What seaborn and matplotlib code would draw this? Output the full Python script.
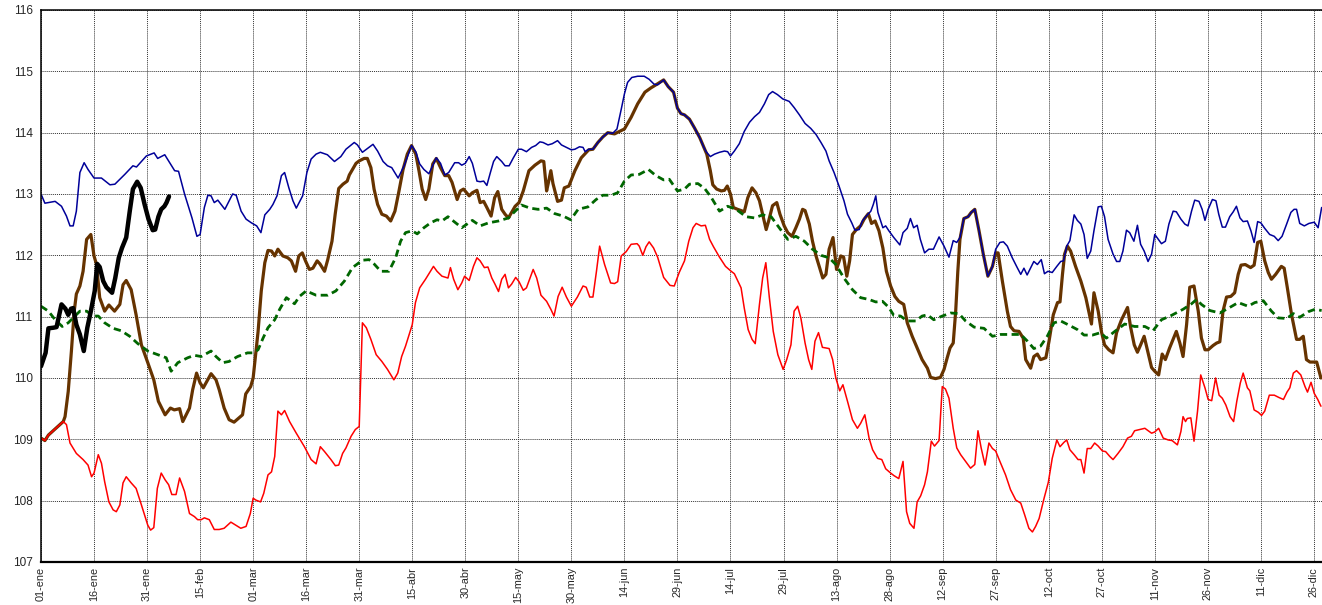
import matplotlib
matplotlib.use("Agg")
import matplotlib.pyplot as plt
import seaborn as sns
import numpy as np

# day of year (0 = 01-ene, leap year) and level
blue_max = [
    (0,113.0),(1.1,112.85),(4,112.88),(5.8,112.8),(7.2,112.64),(8.2,112.48),(9.1,112.48),(10,112.72),(11,113.35),(12.2,113.51),(13.3,113.4),(15,113.26),(17.1,113.26),(19.5,113.15),(20.9,113.16),(23.7,113.32),(26,113.46),(27,113.44),(29.8,113.62),(32,113.67),(33,113.58),(35,113.64),(36.4,113.51),(37.8,113.38),(38.9,113.37),(40.6,113.0),(42.7,112.61),(44.1,112.31),(45,112.34),(46.2,112.78),(47.2,112.98),(48.1,112.97),(49,112.86),(50,112.9),(52,112.75),(54.2,113.0),(55.2,112.98),(56.6,112.72),(58,112.59),(59.5,112.53),
    (61,112.48),(62.2,112.37),(63.3,112.66),(64.7,112.75),(65.6,112.83),(66.75,112.97),(68,113.3),(68.9,113.35),(70.1,113.1),(71.25,112.89),(72.2,112.77),(74,112.97),(75.2,113.35),(76.4,113.57),(77.8,113.65),(79,113.68),(81,113.64),(83,113.53),(84.8,113.61),(86.25,113.73),(88.6,113.84),(89.5,113.8),(90.9,113.68),(93.9,113.81),(95.2,113.7),(96.75,113.53),(98,113.46),(99.2,113.43),(101,113.26),(102.7,113.46),(104.8,113.79),(106,113.69),(107.1,113.49),(108.3,113.4),(109.7,113.33),(111.8,113.59),(113,113.5),(114.2,113.31),(115.3,113.35),(117,113.51),(118.1,113.51),(119,113.47),
    (120,113.5),(121.1,113.61),(122,113.5),(123.3,113.21),(124.2,113.2),(125.2,113.21),(126.1,113.14),(127.1,113.35),(128,113.53),(128.9,113.61),(130.3,113.53),(131.25,113.46),(132.4,113.46),(133.6,113.59),(135,113.73),(135.9,113.73),(137.3,113.69),(138.75,113.76),(139.9,113.79),(141.1,113.85),(142,113.84),(143.4,113.8),(144.6,113.82),(146.1,113.87),(147.2,113.8),(148.6,113.76),(150,113.72),(151,113.73),(152.3,113.77),(153.3,113.76),(153.9,113.69),(154.9,113.73),(156.1,113.73),(157.5,113.84),(158.9,113.93),(160.3,114.0),(161.7,113.99),(162.9,114.06),(164.1,114.38),(165,114.63),(165.9,114.82),(167.1,114.9),(168.75,114.92),(170.6,114.92),(172,114.87),(173.4,114.79),(174.4,114.78),(176.1,114.86),(177.4,114.75),(178.9,114.66),(180,114.4),(181,114.31),
    (182,114.29),(183.4,114.22),(184.8,114.08),(186.3,113.92),(187.4,113.77),(188.1,113.69),(189.3,113.61),(190.5,113.65),(191.9,113.68),(193.3,113.7),(194.2,113.69),(195,113.62),(196.1,113.7),(197.5,113.82),(198.9,114.02),(200.4,114.17),(201.8,114.26),(203.2,114.33),(204.6,114.47),(205.8,114.62),(206.9,114.67),(208.3,114.62),(209.8,114.55),(211.6,114.51),(213,114.41),(214.5,114.29),(216.1,114.15),(217.7,114.07),(219.2,113.97),(220.6,113.84),(222,113.7),(222.9,113.54),(224.3,113.35),(225.7,113.13),(227.1,112.89),(228.1,112.67),(229.3,112.53),(230.2,112.41),(231.4,112.42),(232.3,112.56),(233.4,112.64),(234.7,112.72),(235.4,112.83),(236.1,112.97),(236.7,112.7),(237.5,112.56),(238.1,112.45),(238.9,112.48),(239.8,112.4),(241.2,112.29),
    (242.9,112.17),(243.8,112.37),(245,112.44),(245.9,112.6),(246.8,112.45),(247.8,112.49),(248.7,112.26),(249.9,112.04),(251.1,112.1),(252.4,112.1),(254,112.3),(255.4,112.15),(256.8,111.97),(258,112.24),(259,112.21),(259.9,112.29),(261,112.6),(262.2,112.63),(263.1,112.7),(264.1,112.75),(265.3,112.4),(266.5,112.02),(267.8,111.66),(269.1,111.82),(270,112.1),(271.2,112.21),(272.2,112.22),(273.3,112.15),(274.7,111.96),(276.1,111.8),(277.1,111.69),(278,111.79),(278.9,111.68),(280.1,111.82),(280.8,111.9),(281.8,111.85),(282.9,111.93),(283.8,111.7),(284.8,111.74),(286,111.72),(287.3,111.82),(288.4,111.9),(289.2,111.91),(290.1,112.15),(291,112.24),(292.2,112.66),(293.1,112.57),(294.1,112.51),(295,112.34),(295.9,111.95),(296.9,112.07),(297.8,112.4),(299,112.79),(299.9,112.8),(300.8,112.63),(301.8,112.26),
    (303.2,112.02),(304.2,111.9),(305.1,111.9),(306,112.07),(307,112.41),(307.9,112.37),(309.1,112.23),(310.1,112.49),(311,112.18),(312,112.07),(313.1,111.9),(314.1,112.02),(315,112.34),(316,112.26),(316.9,112.19),(318,112.23),(319,112.51),(320.2,112.72),(321.1,112.71),(322.4,112.59),(323.5,112.51),(324.4,112.48),(325.4,112.72),(326.3,112.9),(327.5,112.88),(328.4,112.75),(329.2,112.57),(330.1,112.75),(331.3,112.91),(332.3,112.89),(333.1,112.67),(334.1,112.46),(335,112.46),(336.2,112.63),(337.2,112.71),(338.1,112.8),(339.1,112.61),(340,112.55),(341.2,112.56),(342.2,112.4),(343.1,112.21),(344.1,112.55),(345,112.53),(346.1,112.44),(347.5,112.34),(348.8,112.31),(349.9,112.24),(351,112.31),(352.3,112.51),(353.5,112.7),(354.4,112.75),(355.1,112.75),(356,112.52),(357.3,112.48),(358.6,112.52),(360.1,112.54),(361.2,112.45),(362.2,112.78)]

brown_prev = [
    (0,109.02),(1.1,108.98),(2.1,109.07),(4,109.17),(6.3,109.29),(6.8,109.37),(7.7,109.78),(8.6,110.44),(9.4,111.09),(10,111.37),(11,111.5),(11.9,111.74),(12.9,112.26),(14.1,112.34),(15,111.99),(15.7,111.85),(16.6,111.31),(18,111.09),(19.2,111.19),(20.8,111.09),(22.3,111.2),(23.2,111.52),(24.1,111.59),(25.5,111.44),(26.9,111.03),(28.4,110.54),(30.2,110.25),(31.9,109.97),(33.2,109.62),(35.1,109.4),(36.6,109.51),(37.7,109.48),(39.2,109.5),(40.1,109.29),(42,109.51),(42.9,109.81),(44,110.08),(45,109.92),(45.9,109.84),(48.1,110.07),(49.5,109.97),(50.4,109.81),(51.8,109.51),(53.2,109.32),(54.6,109.28),(56,109.35),(57,109.4),(57.9,109.74),(59.3,109.86),(60,110.0),
    (61.4,110.76),(62.3,111.42),(63.3,111.88),(64.2,112.08),(65.2,112.07),(66.1,111.99),(67,112.1),(68.4,111.99),(69.8,111.96),(70.8,111.91),(72,111.74),(72.9,111.99),(73.9,112.04),(74.8,111.91),(75.9,111.77),(76.9,111.79),(78.1,111.91),(78.9,111.86),(80.2,111.74),(81.1,111.93),(82.3,112.23),(83.2,112.67),(84.2,113.09),(85.4,113.16),(86.6,113.21),(87.2,113.31),(88.1,113.4),(89.1,113.5),(90,113.54),(91.4,113.58),(92.3,113.58),(93.3,113.43),(94.2,113.08),(95.2,112.83),(96.4,112.67),(97.7,112.64),(98.9,112.56),(100.1,112.72),(101.25,113.05),(102.4,113.4),(103.6,113.65),(104.8,113.79),(106,113.65),(106.9,113.38),(107.8,113.08),(108.8,112.91),(109.7,113.08),(110.8,113.49),(111.8,113.58),(113,113.43),(114.2,113.3),(115.3,113.3),(116.25,113.19),(117.7,112.91),(118.6,113.05),(119.5,113.08),
    (121.1,112.97),(122,113.02),(123.3,113.06),(124.2,112.86),(125.2,112.88),(126.1,112.78),(127.3,112.64),(128.3,112.94),(129.2,113.04),(130.3,112.75),(131.25,112.67),(132.2,112.61),(133.1,112.7),(134.1,112.8),(135.2,112.86),(136.4,113.05),(138,113.38),(139.7,113.47),(141.4,113.54),(142.2,113.53),(143,113.05),(143.6,113.21),(144.2,113.38),(144.8,113.17),(146.1,112.88),(147.2,112.9),(148,113.1),(149.3,113.13),(151,113.38),(152.8,113.59),(154.9,113.72),(156.1,113.73),(157.5,113.84),(158.9,113.93),(160.3,114.0),(162.2,113.98),(165,114.06),(166.9,114.25),(168.75,114.47),(170.8,114.66),(172.5,114.73),(174.2,114.79),(176.1,114.86),(177.4,114.75),(178.9,114.66),(180,114.4),(181,114.31),
    (182,114.29),(183.4,114.22),(184.8,114.08),(186.3,113.92),(187.4,113.77),(188.3,113.65),(189.3,113.38),(190,113.15),(191.1,113.08),(192.4,113.05),(193.3,113.06),(194.1,113.13),(195,113.0),(195.8,112.78),(197,112.75),(198,112.73),(198.9,112.71),(199.9,112.94),(201.1,113.1),(202.2,113.02),(203.2,112.89),(204.1,112.67),(205.1,112.42),(205.8,112.56),(206.9,112.81),(208.1,112.86),(209,112.67),(210.2,112.48),(211.2,112.37),(212.4,112.31),(213.5,112.45),(214.5,112.59),(215.4,112.75),(216.1,112.73),(217.3,112.51),(218.2,112.23),(219.2,111.99),(220.1,111.82),(221.1,111.63),(222,111.69),(222.9,112.1),(224,112.29),(225,111.77),(226.2,111.99),(227,111.97),(227.9,111.66),(228.7,111.91),(229.5,112.34),(230.6,112.42),(231.8,112.48),(232.8,112.59),(234,112.68),(234.9,112.52),(235.9,112.56),(237,112.4),(238.1,112.12),(239.1,111.74),(240.3,111.5),(241.5,111.33),
    (242.6,111.25),(244,111.2),(245,110.9),(246.4,110.68),(247.8,110.49),(249.2,110.3),(250.7,110.16),(251.6,110.01),(253,109.99),(254.4,110.01),(255.4,110.14),(256.3,110.33),(257.1,110.49),(258,110.57),(258.7,111.09),(259.3,111.74),(259.9,112.26),(261,112.6),(262.2,112.63),(263.1,112.7),(264.1,112.75),(265.3,112.4),(266.5,112.02),(267.8,111.66),(269.1,111.82),(270,112.04),(270.7,112.04),(271.9,111.58),(273.3,111.09),(274.2,110.84),(275.2,110.77),(276.6,110.76),(277.8,110.65),(278.5,110.3),(279.9,110.16),(280.8,110.35),(281.8,110.39),(282.7,110.3),(284.2,110.33),(285.1,110.6),(286.3,111.03),(287.5,111.23),(288.2,111.24),(288.9,111.69),(289.5,112.02),(290.3,112.15),(291.2,112.07),(292.6,111.82),(294.1,111.58),(295.5,111.31),(297.1,110.88),(297.8,111.39),(299,111.09),(299.9,110.76),(300.8,110.54),
    (302,110.46),(303.2,110.41),(304.2,110.74),(305.6,110.95),(307.3,111.15),(308.2,110.82),(309.2,110.54),(310.1,110.42),(311,110.54),(312,110.68),(313.1,110.41),(314.1,110.17),(315,110.11),(316.1,110.05),(317.1,110.39),(318,110.3),(319.2,110.49),(320.2,110.63),(321.1,110.76),(322.1,110.57),(323,110.35),(324,110.87),(324.9,111.48),(326.1,111.5),(327.3,111.09),(328.2,110.65),(329.2,110.46),(330.1,110.46),(331.5,110.53),(332.5,110.57),(333.4,110.59),(334.3,111.09),(335.3,111.32),(336.5,111.33),(337.6,111.39),(338.6,111.69),(339.4,111.84),(340.6,111.85),(342.1,111.8),(343.1,111.84),(344.1,112.21),(345,112.23),(346.1,111.91),(347.1,111.72),(348,111.61),(349.2,111.69),(350.8,111.82),(351.6,111.79),(352.5,111.47),(353.7,111.03),(355.1,110.63),(356,110.63),(357,110.68),(357.9,110.3),(358.9,110.26),(360.8,110.26),(362,110.0)]

green_avg = [
    (0,111.17),(2.1,111.09),(4,110.95),(6,110.84),(7.7,110.9),(9.6,111.01),(11,111.09),(12.9,111.09),(14.7,111.01),(16.2,111.01),(18,110.9),(20.4,110.81),(22.7,110.77),(25.1,110.68),(27.4,110.56),(30.2,110.44),(33,110.38),(35.4,110.33),(36.8,110.11),(38.7,110.25),(41.5,110.33),(43.4,110.37),(45.3,110.35),(48.1,110.44),(49.5,110.35),(51.4,110.25),(53.2,110.27),(55.6,110.35),(58.4,110.41),(60,110.41),
    (61.4,110.46),(62.8,110.65),(64.2,110.82),(66.1,110.95),(67.5,111.12),(69.4,111.31),(71.7,111.21),(73.1,111.33),(75,111.42),(77.8,111.35),(81.1,111.35),(83.4,111.42),(85.8,111.58),(88.1,111.8),(90.9,111.92),(92.8,111.93),(94.2,111.86),(96.1,111.74),(98.4,111.74),(100.3,111.96),(101.7,112.23),(103.1,112.37),(105,112.4),(106.4,112.35),(108.3,112.45),(110.2,112.53),(112,112.58),(113.4,112.56),(115.1,112.63),(117.7,112.51),(119,112.45),
    (122,112.57),(124.2,112.48),(126.6,112.53),(129.4,112.56),(132.2,112.61),(134.1,112.72),(135.9,112.82),(138.3,112.77),(140.6,112.75),(143,112.77),(145.3,112.68),(147.7,112.64),(149.8,112.58),(151.9,112.75),(154.7,112.79),(157,112.91),(158.9,112.98),(161.25,112.98),(163.1,113.02),(165,113.21),(166.9,113.31),(169.2,113.32),(171.8,113.4),(173.9,113.3),(176.1,113.23),(177.7,113.24),(180,113.05),
    (182,113.08),(183.4,113.16),(185.8,113.17),(187.7,113.09),(189.5,112.95),(191.9,112.72),(194.2,112.8),(196.6,112.75),(199.4,112.63),(201.8,112.61),(204.1,112.66),(206.5,112.63),(208.8,112.45),(211.2,112.26),(213.5,112.31),(215.9,112.23),(218.2,112.1),(220.6,112.0),(222.9,111.96),(224.8,111.85),(227.1,111.63),(229.5,111.44),(231.8,111.31),(234.2,111.28),(236.1,111.24),(238,111.25),(239.8,111.15),(241.2,111.02),
    (243.1,111.01),(245,110.93),(247.4,110.93),(249.2,111.01),(250.7,111.03),(252.5,110.95),(254.9,111.01),(257.3,111.06),(259.6,111.05),(261.5,110.93),(263.9,110.83),(266.7,110.81),(269.1,110.68),(271.4,110.71),(274.2,110.71),(277.1,110.71),(279,110.6),(280.8,110.48),(282.7,110.52),(284.6,110.68),(286.5,110.9),(288.4,110.93),(290.8,110.86),(293.1,110.79),(295,110.7),(297.4,110.7),(299.7,110.74),
    (301.3,110.65),(303.7,110.76),(306.5,110.88),(309.3,110.84),(312.2,110.84),(314.5,110.77),(316.9,110.95),(319.7,111.02),(323,111.12),(325.4,111.21),(326.8,111.28),(328.2,111.2),(330.6,111.1),(333.4,111.06),(336.2,111.15),(338.6,111.23),(341.4,111.17),(343.3,111.23),(345.7,111.26),(348,111.09),(349.9,110.98),(352.3,110.97),(354.2,111.05),(356,110.99),(358.4,111.08),(360.3,111.12),(362.2,111.1)]

red_min = [
    (0,109.02),(1.1,108.98),(2.1,109.07),(4,109.17),(6.3,109.29),(7.2,109.24),(8.2,108.94),(10,108.77),(11.9,108.67),(13.3,108.58),(14.3,108.39),(15,108.45),(16.2,108.75),(17.1,108.61),(18,108.31),(19.2,107.98),(20.4,107.85),(21.3,107.82),(22.3,107.93),(23.2,108.29),(24.1,108.39),(25.5,108.29),(26.9,108.2),(28.4,107.93),(30.2,107.6),(31,107.52),(31.9,107.56),(32.9,108.2),(34,108.45),(35.1,108.34),(36.1,108.26),(37,108.1),(38.2,108.1),(39.2,108.37),(40.6,108.15),(42,107.79),(43.4,107.74),(44.3,107.69),(45.3,107.69),(46.2,107.72),(47.6,107.69),(49,107.53),(50.4,107.53),(51.8,107.55),(53.7,107.65),(55.1,107.6),(56.5,107.55),(58,107.58),(59.2,107.79),(60,108.04),
    (60.75,108.01),(62.1,107.98),(63,108.12),(64.2,108.42),(65.2,108.47),(66.1,108.72),(67,109.46),(68,109.4),(68.9,109.47),(70.3,109.29),(72.2,109.1),(74.5,108.88),(76.4,108.67),(77.8,108.6),(79,108.88),(80.2,108.8),(82,108.67),(83.25,108.57),(84.2,108.58),(85.3,108.77),(86.25,108.86),(87.7,109.05),(88.9,109.16),(90,109.21),(90.9,110.9),(92,110.82),(93.3,110.63),(94.8,110.38),(96.4,110.27),(98,110.14),(99.8,109.97),(100.9,110.08),(102,110.35),(103.1,110.52),(105,110.87),(105.9,111.23),(107.1,111.47),(108.75,111.61),(111,111.82),(112,111.74),(113.4,111.66),(115.1,111.63),(115.8,111.8),(116.7,111.61),(117.9,111.44),(119,111.55),(119.8,111.66),
    (121.1,111.59),(122.3,111.82),(123.3,111.96),(124.2,111.91),(125.4,111.8),(126.4,111.81),(127.5,111.63),(128.4,111.53),(129.4,111.41),(130.3,111.61),(131.25,111.69),(132.2,111.47),(133.1,111.53),(134.25,111.64),(135.2,111.57),(136.4,111.43),(137.3,111.47),(138.3,111.63),(139.2,111.77),(140.2,111.63),(141.4,111.35),(143,111.25),(144.2,111.12),(145.1,111.01),(146.25,111.33),(147.4,111.48),(148.6,111.32),(150,111.17),(151.7,111.32),(153.3,111.5),(154.2,111.48),(155.2,111.32),(156.1,111.32),(157.1,111.74),(158,112.15),(159.4,111.85),(161.1,111.55),(162.2,111.54),(163.1,111.57),(164.1,111.99),(165.5,112.06),(166.9,112.18),(168.6,112.19),(169.2,112.15),(170.2,112.0),(171.1,112.14),(172,112.22),(173.25,112.12),(174.4,111.97),(176.1,111.64),(177.9,111.51),(179.1,111.5),(180.5,111.72),
    (182,111.91),(183.2,112.23),(184.4,112.45),(185.3,112.52),(186.7,112.48),(187.9,112.49),(189.1,112.26),(190.2,112.14),(191.9,111.97),(193.6,111.82),(195.2,111.74),(196.1,111.7),(198,111.47),(198.9,111.14),(200,110.79),(201.1,110.63),(202,110.56),(203.2,111.2),(204.1,111.63),(205,111.88),(206,111.31),(207.1,110.76),(208.4,110.38),(209.9,110.14),(210.9,110.3),(212.1,110.54),(213,111.09),(214,111.17),(214.9,110.98),(216.1,110.57),(217.1,110.3),(218,110.14),(218.9,110.6),(219.9,110.74),(221,110.5),(222.9,110.48),(223.9,110.3),(224.8,110.0),(225.9,109.79),(226.8,109.89),(228.1,109.62),(229.5,109.32),(230.9,109.18),(231.8,109.26),(233,109.4),(234.2,109.02),(235.2,108.83),(236.6,108.69),(237.8,108.67),(238.9,108.52),(240.3,108.45),(241.2,108.41),
    (242.6,108.36),(243.8,108.64),(244.8,107.82),(245.7,107.63),(246.9,107.55),(247.8,107.98),(248.8,108.08),(249.9,108.26),(250.7,108.47),(251.8,108.97),(252.7,108.89),(254,108.98),(254.9,109.86),(255.8,109.82),(256.8,109.67),(258,109.18),(259,108.86),(260.1,108.75),(261.5,108.64),(262.9,108.53),(264.1,108.59),(265,109.14),(265.9,108.86),(267,108.58),(268.1,108.94),(269.1,108.85),(270,108.81),(271.2,108.64),(272.8,108.42),(274.2,108.18),(275.7,108.01),(277.1,107.96),(278.2,107.77),(279.4,107.55),(280.4,107.49),(281.3,107.58),(282.3,107.71),(283.7,108.04),(284.9,108.3),(286,108.69),(287.3,108.99),(288.2,108.88),(289.3,108.95),(290.1,108.99),(291,108.83),(292.2,108.75),(293.3,108.67),(294.1,108.67),(295,108.45),(295.9,108.85),(296.9,108.85),(298,108.94),(299,108.89),(300.2,108.81),(301.1,108.8),
    (302.3,108.72),(303.2,108.67),(304.6,108.77),(306,108.88),(307.3,109.02),(308.4,109.05),(309.3,109.14),(310.8,109.16),(312.2,109.18),(314.1,109.1),(315,109.12),(316.1,109.18),(317.4,109.02),(318.8,108.99),(319.9,108.98),(321.4,108.91),(322.4,109.13),(323,109.37),(323.7,109.29),(324.2,109.34),(325.2,109.35),(326.1,108.97),(327.1,109.46),(328,110.05),(329.2,109.84),(330.1,109.65),(331.1,109.63),(332.2,110.0),(333.2,109.72),(334.1,109.67),(335.1,109.56),(336.3,109.37),(337.3,109.29),(338.2,109.62),(339.2,109.92),(340,110.08),(341.2,109.84),(341.9,109.79),(343.1,109.48),(344.3,109.44),(345.2,109.39),(346.1,109.46),(347.4,109.72),(348.8,109.72),(350.2,109.68),(351.4,109.65),(352.4,109.77),(353.2,109.84),(354.2,110.08),(355.1,110.12),(356.3,110.05),(357.5,109.86),(358.2,109.77),(359.2,109.93),(360.1,109.75),(361.1,109.65),(362,109.54)]

black_now = [(0,110.19),(1.3,110.41),(2.1,110.81),(3.5,110.82),(4.4,110.83),(5.8,111.2),(6.9,111.13),(7.7,111.03),(8.5,111.13),(9.1,111.14),(10,110.87),(11,110.71),(12.1,110.44),(13.1,110.82),(14.1,111.09),(15.2,111.42),(15.9,111.86),(16.6,111.81),(17.6,111.58),(18.5,111.48),(20.1,111.39),(21,111.63),(22,111.96),(22.9,112.12),(24.1,112.29),(25.1,112.72),(26,113.08),(27.2,113.2),(28.2,113.1),(29.3,112.83),(30.4,112.59),(31.6,112.41),(32.3,112.42),(33.2,112.63),(34,112.75),(34.9,112.8),(35.5,112.86),(36.2,112.96)]

tick_days = list(range(0, 361, 15))
tick_labels = ["01-ene","16-ene","31-ene","15-feb","01-mar","16-mar","31-mar","15-abr","30-abr",
               "15-may","30-may","14-jun","29-jun","14-jul","29-jul","13-ago","28-ago","12-sep",
               "27-sep","12-oct","27-oct","11-nov","26-nov","11-dic","26-dic"]

sns.set_style("white")
plt.rcParams['font.family'] = ['Liberation Sans', 'DejaVu Sans']

fig = plt.figure(figsize=(13.22, 6.05), dpi=100)
ax = fig.add_axes([41/1322, 1-562/605, 1-41/1322, (562-10)/605])


def draw(pts, **kw):
    d = np.array([p[0] for p in pts])
    v = np.array([p[1] for p in pts])
    sns.lineplot(x=d, y=v, ax=ax, sort=False, estimator=None, **kw)


draw(brown_prev, color="#663300", linewidth=2.3)
draw(green_avg, color="#006600", linewidth=2.0, linestyle=(0, (2.6, 1.6)))
draw(red_min, color="#ff0000", linewidth=1.1)
draw(blue_max, color="#000099", linewidth=1.1)
draw(black_now, color="black", linewidth=3.2)

ax.set_xlim(0, 362.3)
ax.set_ylim(107, 116)
ax.set_yticks(range(107, 117))
ax.set_xticks(tick_days)
ax.set_xticklabels(tick_labels, rotation=90, fontsize=7.8)
ax.tick_params(axis="y", labelsize=8.5, length=3, width=0.8, pad=3)
ax.tick_params(axis="x", length=2, width=0.8, pad=1.5)
ax.grid(True, color="#333333", linestyle=(0, (1, 1)), linewidth=0.7)
ax.set_axisbelow(True)
ax.set_xlabel("")
ax.set_ylabel("")
for s in ["left", "top"]:
    ax.spines[s].set_color("black")
    ax.spines[s].set_linewidth(1.1)
ax.spines["bottom"].set_color("black")
ax.spines["bottom"].set_linewidth(1.6)
ax.spines["right"].set_visible(False)

fig.savefig("out.png", dpi=100)
